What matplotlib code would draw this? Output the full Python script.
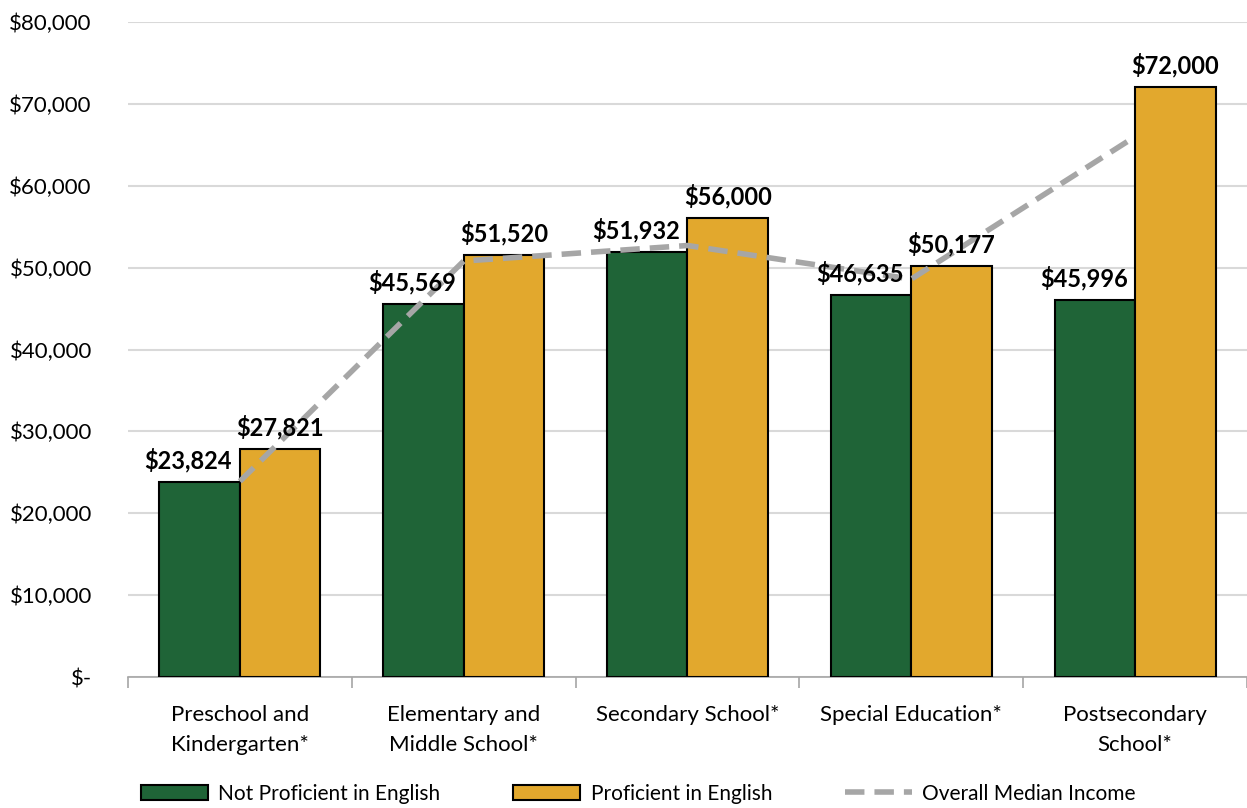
import matplotlib.pyplot as plt
import numpy as np

categories = [
    "Preschool and\nKindergarten*",
    "Elementary and\nMiddle School*",
    "Secondary School*",
    "Special Education*",
    "Postsecondary\nSchool*",
]
not_proficient = [23824, 45569, 51932, 46635, 45996]
proficient = [27821, 51520, 56000, 50177, 72000]
overall_median = [23900, 50800, 52700, 48600, 66000]
y_ticks = [0, 10000, 20000, 30000, 40000, 50000, 60000, 70000, 80000]
y_tick_labels = ["$-", "$10,000", "$20,000", "$30,000", "$40,000",
                 "$50,000", "$60,000", "$70,000", "$80,000"]

GREEN = "#1F6437"
GOLD = "#E2A82D"
GREY = "#A6A6A6"

plt.rcParams["font.family"] = ["Lato", "DejaVu Sans"]

fig = plt.figure(figsize=(12.47, 8.08), dpi=100)
ax = fig.add_axes([0.1026, 0.1621, 0.8974, 0.8107])

x = np.arange(len(categories))
w = 0.36

bars1 = ax.bar(x - w / 2, not_proficient, w, color=GREEN, edgecolor="black",
               linewidth=1.5, label="Not Proficient in English", zorder=3)
bars2 = ax.bar(x + w / 2, proficient, w, color=GOLD, edgecolor="black",
               linewidth=1.5, label="Proficient in English", zorder=3)
line, = ax.plot(x, overall_median, color=GREY, linewidth=4,
                linestyle=(0, (3.5, 1.8)), label="Overall Median Income",
                zorder=4)

# Value labels above each bar (green ones sit a little to the left)
for bars, dx in ((bars1, -8), (bars2, 0)):
    for b in bars:
        ax.annotate(f"${b.get_height():,.0f}",
                    (b.get_x() + b.get_width() / 2, b.get_height()),
                    xytext=(dx, 7), textcoords="offset points",
                    ha="center", va="bottom", fontsize=17, fontweight="bold",
                    zorder=5)

ax.set_ylim(0, 80000)
ax.set_xlim(-0.5, len(categories) - 0.5)
ax.set_yticks(y_ticks)
ax.set_yticklabels(y_tick_labels, fontsize=16)
ax.yaxis.grid(True, color="#D9D9D9", linewidth=1.5, zorder=0)
ax.tick_params(axis="y", length=0, pad=26)

# Category labels between boundary ticks
ax.set_xticks(x)
ax.set_xticklabels(categories, fontsize=16, linespacing=1.65)
ax.tick_params(axis="x", length=0, pad=20)
ax.set_xticks(np.arange(len(categories) + 1) - 0.5, minor=True)
ax.tick_params(axis="x", which="minor", length=8, color=GREY, width=1.2)

for s in ("top", "right", "left"):
    ax.spines[s].set_visible(False)
ax.spines["bottom"].set_color(GREY)
ax.spines["bottom"].set_linewidth(1.2)

fig.legend(handles=[bars1, bars2, line], loc="lower center",
           bbox_to_anchor=(0.512, -0.018), ncol=3, frameon=False, fontsize=15,
           handlelength=3.2, handleheight=0.75, handletextpad=0.5,
           columnspacing=3.5)

fig.savefig("out.png", dpi=100)
